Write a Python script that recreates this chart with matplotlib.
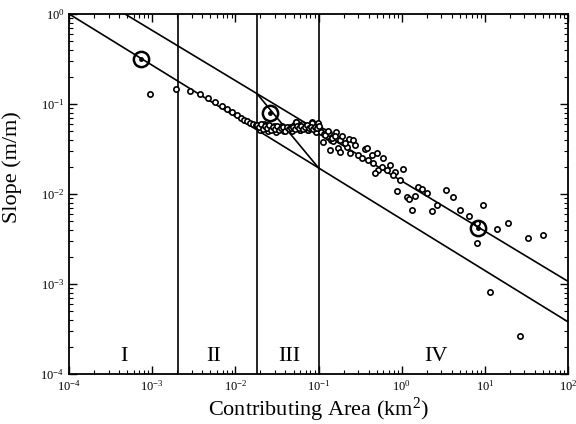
import numpy as np
import matplotlib
matplotlib.use("Agg")
import matplotlib.pyplot as plt

plt.rcParams["font.family"] = ["Liberation Serif", "DejaVu Serif"]
plt.rcParams["mathtext.fontset"] = "custom"
plt.rcParams["mathtext.rm"] = "Liberation Serif"
plt.rcParams["mathtext.it"] = "Liberation Serif:italic"
plt.rcParams["mathtext.default"] = "regular"

# observed slope-area points (log10 of area in km2, log10 of slope in m/m)
log_area = [
    -3.026, -2.714, -2.546, -2.425, -2.329, -2.245, -2.161, -2.101, -2.041, -1.981,
    -1.933, -1.897, -1.861, -1.825, -1.788, -1.752,
    -1.740, -1.704, -1.680, -1.656, -1.632, -1.608, -1.584, -1.536, -1.512, -1.488,
    -1.440, -1.416, -1.392, -1.344, -1.320, -1.296, -1.272, -1.248, -1.224, -1.200,
    -1.151, -1.127, -1.103, -1.079, -1.055, -1.031, -1.007, -0.983, -0.947, -0.911,
    -0.887, -0.851,
    -1.704, -1.608, -1.512, -1.416, -1.320, -1.224, -1.127, -1.031, -1.272, -1.079,
    -1.007,
    -1.716, -1.692, -1.668, -1.644, -1.620, -1.596, -1.572, -1.548, -1.524, -1.500,
    -1.476, -1.452, -1.428, -1.404, -1.380, -1.356, -1.332, -1.308, -1.284, -1.260,
    -1.236, -1.212, -1.188, -1.163, -1.139, -1.115, -1.091, -1.067, -1.043, -1.019,
    -0.995, -0.971, -0.935, -0.899, -0.875, -0.827,
    -0.923, -0.887, -0.839, -0.791, -0.743, -0.719, -0.659, -0.635,
    -0.803, -0.947, -0.863, -0.767, -0.683, -0.587, -0.563, -0.743, -0.623, -0.526,
    -0.442, -0.358, -0.298, -0.478, -0.406, -0.346, -0.226, -0.142, -0.238, -0.286,
    -0.322, -0.178, -0.082, 0.014, -0.106, -0.022, -0.058, 0.063, 0.087, 0.159,
    0.195, 0.243, 0.303, 0.423, 0.363, 0.123, 0.531, 0.615, 0.700, 0.808,
    0.976, 0.904, 0.904, 1.144, 1.276, 1.517, 1.697, 1.060, 1.421, -0.418,
]
log_slope = [
    -0.889, -0.833, -0.856, -0.889, -0.933, -0.978, -1.022, -1.056, -1.089, -1.122,
    -1.156, -1.178, -1.189, -1.211, -1.222, -1.233,
    -1.233, -1.256, -1.256, -1.222, -1.233, -1.267, -1.267, -1.244, -1.278, -1.267,
    -1.244, -1.289, -1.278, -1.256, -1.289, -1.233, -1.200, -1.256, -1.289, -1.222,
    -1.267, -1.289, -1.244, -1.200, -1.233, -1.300, -1.256, -1.278, -1.300, -1.322,
    -1.367, -1.400,
    -1.289, -1.300, -1.311, -1.300, -1.300, -1.289, -1.289, -1.311, -1.200, -1.211,
    -1.211,
    -1.256, -1.222, -1.278, -1.244, -1.267, -1.233, -1.289, -1.256, -1.278, -1.244,
    -1.289, -1.267, -1.256, -1.300, -1.256, -1.278, -1.267, -1.256, -1.278, -1.244,
    -1.267, -1.244, -1.278, -1.256, -1.233, -1.267, -1.256, -1.278, -1.256, -1.267,
    -1.244, -1.311, -1.333, -1.356, -1.322, -1.411,
    -1.344, -1.300, -1.378, -1.311, -1.400, -1.356, -1.478, -1.389,
    -1.356, -1.422, -1.511, -1.489, -1.433, -1.400, -1.456, -1.533, -1.544, -1.567,
    -1.500, -1.567, -1.544, -1.600, -1.622, -1.656, -1.600, -1.678, -1.700, -1.733,
    -1.767, -1.733, -1.756, -1.722, -1.789, -1.844, -1.967, -2.033, -2.056, -2.022,
    -1.922, -1.944, -1.989, -2.122, -2.189, -2.178, -1.956, -2.033, -2.178, -2.244,
    -2.122, -2.322, -2.544, -2.389, -2.322, -2.489, -2.456, -3.089, -3.578, -1.489,
]

# highlighted points (large circles)
circle_area = [7.4e-4, 2.6e-2, 8.2]
circle_slope = [0.32, 0.079, 4.2e-3]

# boundaries between regions I-IV
bounds = [2.04e-3, 1.82e-2, 0.1]
region_labels = ["I", "II", "III", "IV"]
region_x = [4.5e-4, 5.4e-3, 4.4e-2, 2.6]

# bounding lines
lower_area = [1e-4, 1e2]
lower_slope = [1.0, 3.8e-4]
upper_area = [4.7e-4, 1e2]
upper_slope = [1.0, 1.07e-3]
cross_area = [1.82e-2, 0.1]
cross_slope = [0.13, 0.0195]

area = 10 ** np.array(log_area)
slope = 10 ** np.array(log_slope)

fig = plt.figure(figsize=(5.76, 4.24), dpi=100)
ax = fig.add_axes([0.12, 0.118, 0.866, 0.849])
ax.set_xscale("log")
ax.set_yscale("log")
ax.set_xlim(1e-4, 1e2)
ax.set_ylim(1e-4, 1e0)

for b in bounds:
    ax.axvline(b, color="black", lw=1.2)

ax.plot(lower_area, lower_slope, color="black", lw=1.2)
ax.plot(upper_area, upper_slope, color="black", lw=1.2)
ax.plot(cross_area, cross_slope, color="black", lw=1.2)

ax.plot(area, slope, "o", ms=3.8, mfc="white", mec="black", mew=1.2, ls="none")
ax.plot(circle_area, circle_slope, "o", ms=2.5, mfc="black", mec="black", ls="none")
ax.plot(circle_area, circle_slope, "o", ms=11, mfc="none", mec="black", mew=1.8, ls="none")

for lab, xv in zip(region_labels, region_x):
    ax.text(xv, 1.55e-4, lab, ha="center", va="center", fontsize=16)

ax.tick_params(which="both", direction="in", top=True, right=True, labelsize=9)
ax.tick_params(which="major", length=6, width=1)
ax.tick_params(which="minor", length=3, width=0.8)
for s in ax.spines.values():
    s.set_linewidth(1.3)

ax.set_xlabel("Contributing Area (km$^2$)", fontsize=16, labelpad=2)
ax.set_ylabel("Slope (m/m)", fontsize=16)
ax.yaxis.set_label_coords(-0.094, 0.575)

fig.savefig("out.png", dpi=100)
